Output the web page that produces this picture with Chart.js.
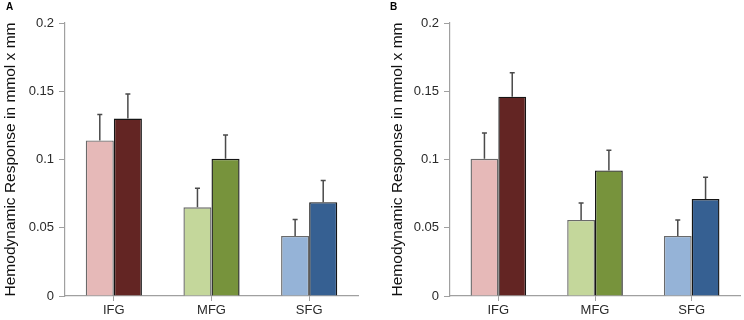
<!DOCTYPE html>
<html>
<head>
<meta charset="utf-8">
<script src="https://cdn.jsdelivr.net/npm/chart.js@4/dist/chart.umd.min.js"></script>
<style>
  html, body { margin: 0; padding: 0; background: #fff; }
  #wrap { position: relative; width: 744px; height: 320px; overflow: hidden; }
  .panel { position: absolute; top: 0; width: 372px; height: 320px; }
  .panel canvas { position: absolute; left: 0; top: 0; }
  .lbl { position: absolute; top: 1px; font: bold 10px "Liberation Sans", Arial, sans-serif; color: #000; }
</style>
</head>
<body>
<div id="wrap">
  <div class="panel" style="left:0"><canvas id="cA" width="372" height="320"></canvas><div class="lbl" style="left:6px">A</div></div>
  <div class="panel" style="left:372px"><canvas id="cB" width="372" height="320"></canvas><div class="lbl" style="left:18px">B</div></div>
</div>
<script>
// ---- data ----
const categories = ['IFG', 'MFG', 'SFG'];
const yTickLabels = ['0', '0.05', '0.1', '0.15', '0.2'];

const lightA    = [0.114, 0.065, 0.044];
const lightAErr = [0.019, 0.014, 0.012];
const darkA     = [0.130, 0.1005, 0.0687];
const darkAErr  = [0.018, 0.0175, 0.016];

const lightB    = [0.1005, 0.0557, 0.044];
const lightBErr = [0.019, 0.0125, 0.0117];
const darkB     = [0.146, 0.092, 0.071];
const darkBErr  = [0.0175, 0.0147, 0.016];

const yTitle = 'Hemodynamic Response in mmol x mm';

// ---- styles ----
const lightColors = ['#E6B9B8', '#C4D79B', '#95B3D7'];
const darkColors  = ['#632523', '#77933C', '#366092'];
const FONT = '"Liberation Sans", Arial, sans-serif';
const AXIS = '#a0a0a0';

const errorBarPlugin = {
  id: 'errbars',
  afterDatasetsDraw(chart) {
    const ctx = chart.ctx;
    const y = chart.scales.y;
    ctx.save();
    ctx.strokeStyle = '#4a4a4a';
    ctx.lineWidth = 1.5;
    chart.data.datasets.forEach((ds, di) => {
      const meta = chart.getDatasetMeta(di);
      meta.data.forEach((bar, i) => {
        const v = ds.data[i], e = ds.errors[i];
        const y0 = y.getPixelForValue(v);
        const y1 = y.getPixelForValue(v + e);
        ctx.beginPath();
        ctx.moveTo(bar.x, y0);
        ctx.lineTo(bar.x, y1);
        ctx.moveTo(bar.x - 2.5, y1);
        ctx.lineTo(bar.x + 2.5, y1);
        ctx.stroke();
      });
    });
    ctx.restore();
  }
};

function makeChart(id, light, lightErr, dark, darkErr, padLeft, axisW, padRight) {
  return new Chart(document.getElementById(id), {
    type: 'bar',
    data: {
      labels: categories,
      datasets: [
        { data: light, errors: lightErr, backgroundColor: lightColors, borderColor: '#6a6a6a', borderWidth: 1.4 },
        { data: dark, errors: darkErr, backgroundColor: darkColors, borderColor: '#151515', borderWidth: 1.4 }
      ]
    },
    options: {
      responsive: false,
      animation: false,
      devicePixelRatio: 1,
      layout: { padding: { left: padLeft, right: padRight, top: 23, bottom: 0 } },
      plugins: { legend: { display: false }, tooltip: { enabled: false } },
      datasets: { bar: { categoryPercentage: 0.575, barPercentage: 1.0 } },
      scales: {
        x: {
          offset: true,
          grid: { offset: false, drawOnChartArea: false, color: AXIS, tickLength: 5, tickWidth: 1 },
          border: { color: AXIS, width: 1.2 },
          ticks: { color: '#2a2a2a', font: { family: FONT, size: 13 }, padding: 2, maxRotation: 0 },
          afterFit(s) { s.height = 24; }
        },
        y: {
          min: 0, max: 0.2,
          grid: { drawOnChartArea: false, color: AXIS, tickLength: 6, tickWidth: 1 },
          border: { color: AXIS, width: 1.2 },
          ticks: {
            stepSize: 0.05, color: '#2a2a2a', font: { family: FONT, size: 13 }, padding: 5,
            callback: (v, i) => yTickLabels[i]
          },
          title: { display: true, text: yTitle, color: '#111', font: { family: FONT, size: 15.5 }, padding: { top: 1, bottom: 0 } },
          afterFit(s) { s.width = axisW; }
        }
      }
    },
    plugins: [errorBarPlugin]
  });
}

makeChart('cA', lightA, lightAErr, darkA, darkAErr, 0, 65, 14);
makeChart('cB', lightB, lightBErr, darkB, darkBErr, 15, 63, 4);
</script>
</body>
</html>
